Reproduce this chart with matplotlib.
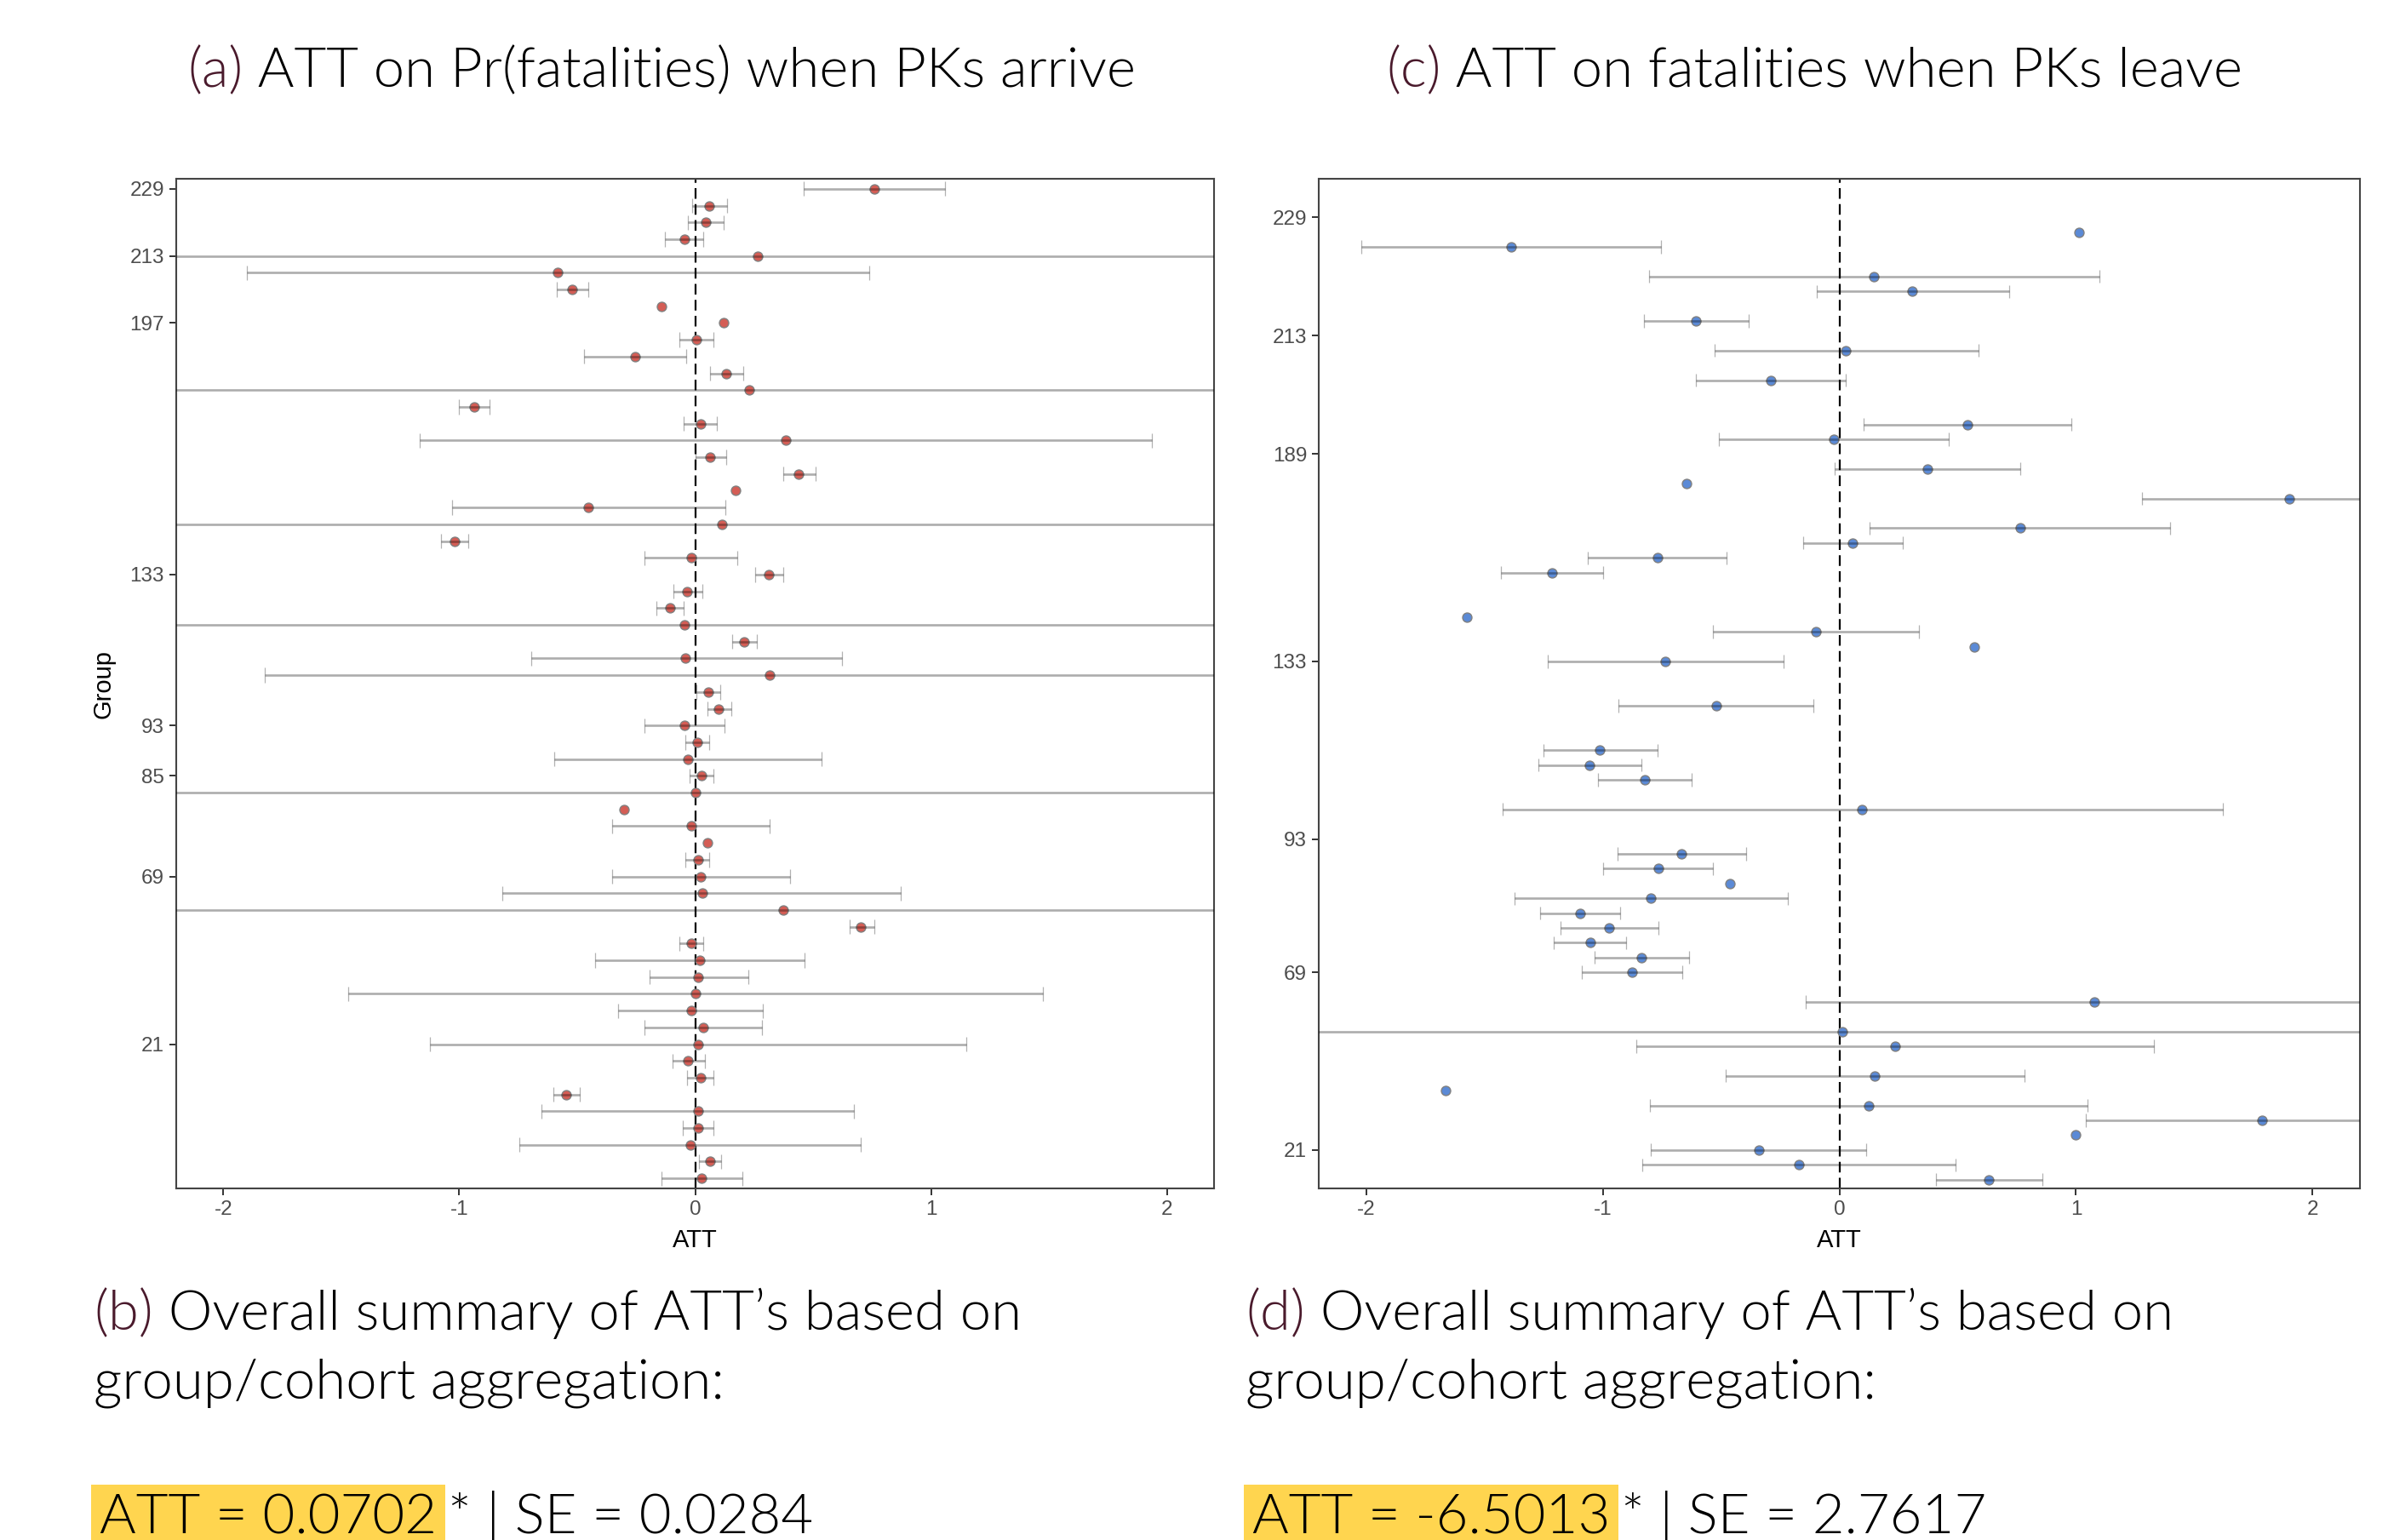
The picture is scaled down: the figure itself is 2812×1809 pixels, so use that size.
import numpy as np
import matplotlib.pyplot as plt
from matplotlib import font_manager

plt.rcParams['axes.unicode_minus'] = False
plt.rcParams['lines.scale_dashes'] = False

W, H, DPI = 2812, 1809, 100
nan = np.nan

# (a) ATT on Pr(fatalities) when PKs arrive -- rows listed top to bottom
att_a = [0.758, 0.061, 0.046, -0.046, 0.265, -0.582, -0.522, -0.141, 0.121, 0.006,
         -0.254, 0.133, 0.228, -0.937, 0.023, 0.383, 0.063, 0.438, 0.173, -0.452,
         0.115, -1.020, -0.017, 0.314, -0.035, -0.107, -0.046, 0.207, -0.040, 0.317,
         0.055, 0.101, -0.046, 0.009, -0.032, 0.026, 0.003, -0.300, -0.017, 0.052,
         0.012, 0.023, 0.029, 0.372, 0.703, -0.017, 0.020, 0.014, 0.003, -0.017,
         0.035, 0.012, -0.029, 0.023, -0.548, 0.012, 0.012, -0.020, 0.063, 0.026]
lo_a = [0.461, -0.014, -0.029, -0.127, -4.5, -1.899, -0.588, nan, nan, -0.066,
        -0.470, 0.063, -4.8, -1.000, -0.049, -1.167, 0.000, 0.372, nan, -1.032,
        -4.6, -1.078, -0.213, 0.254, -0.092, -0.164, -4.7, 0.156, -0.695, -1.824,
        0.006, 0.052, -0.213, -0.043, -0.599, -0.023, -4.9, nan, -0.352, nan,
        -0.040, -0.352, -0.816, -4.4, 0.654, -0.066, -0.424, -0.193, -1.470, -0.326,
        -0.216, -1.124, -0.095, -0.035, -0.602, -0.651, -0.052, -0.744, 0.017, -0.141]
hi_a = [1.058, 0.135, 0.121, 0.035, 5.0, 0.738, -0.452, nan, nan, 0.078,
        -0.037, 0.205, 5.2, -0.870, 0.092, 1.937, 0.130, 0.510, nan, 0.127,
        4.8, -0.963, 0.179, 0.372, 0.029, -0.049, 4.6, 0.262, 0.622, 2.45,
        0.107, 0.153, 0.124, 0.058, 0.536, 0.078, 4.9, nan, 0.317, nan,
        0.061, 0.403, 0.873, 5.1, 0.758, 0.035, 0.464, 0.225, 1.473, 0.288,
        0.282, 1.150, 0.043, 0.078, -0.490, 0.674, 0.078, 0.703, 0.110, 0.199]
tick_rows_a = [0, 4, 8, 23, 32, 35, 41, 51]
tick_labels_a = ['229', '213', '197', '133', '93', '85', '69', '21']

# (c) ATT on fatalities when PKs leave -- rows listed top to bottom
att_c = [nan, nan, nan, 1.012, -1.386, nan, 0.147, 0.308, nan, -0.605,
         nan, 0.027, nan, -0.290, nan, nan, 0.542, -0.024, nan, 0.371,
         -0.647, 1.901, nan, 0.763, 0.057, -0.769, -1.216, nan, nan, -1.575,
         -0.099, 0.569, -0.734, nan, nan, -0.521, nan, nan, -1.012, -1.057,
         -0.823, nan, 0.096, nan, nan, -0.668, -0.766, -0.461, -0.796, -1.096,
         -0.973, -1.054, -0.835, -0.877, nan, 1.078, nan, 0.012, 0.234, nan,
         0.150, -1.665, 0.123, 1.787, 1.000, -0.341, -0.171, 0.632]
lo_c = [nan, nan, nan, nan, -2.021, nan, -0.805, -0.096, nan, -0.826,
        nan, -0.527, nan, -0.605, nan, nan, 0.102, -0.509, nan, -0.021,
        nan, 1.278, nan, 0.129, -0.153, -1.063, -1.431, nan, nan, nan,
        -0.533, nan, -1.231, nan, nan, -0.934, nan, nan, -1.251, -1.272,
        -1.021, nan, -1.422, nan, nan, -0.937, -1.000, nan, -1.371, -1.263,
        -1.180, -1.207, -1.036, -1.090, nan, -0.141, nan, -4.5, -0.859, nan,
        -0.482, nan, -0.799, 1.042, nan, -0.796, -0.832, 0.407]
hi_c = [nan, nan, nan, nan, -0.754, nan, 1.099, 0.716, nan, -0.383,
        nan, 0.587, nan, 0.027, nan, nan, 0.982, 0.464, nan, 0.763,
        nan, 2.52, nan, 1.398, 0.269, -0.476, -1.000, nan, nan, nan,
        0.335, nan, -0.237, nan, nan, -0.108, nan, nan, -0.769, -0.838,
        -0.623, nan, 1.620, nan, nan, -0.395, -0.533, nan, -0.219, -0.925,
        -0.763, -0.901, -0.635, -0.665, nan, 2.30, nan, 4.5, 1.329, nan,
        0.784, nan, 1.048, 2.53, nan, 0.114, 0.491, 0.859]
tick_rows_c = [2, 10, 18, 32, 44, 53, 65]
tick_labels_c = ['229', '213', '189', '133', '93', '69', '21']

summary_b = ('ATT = 0.0702', '* | SE = 0.0284')
summary_d = ('ATT = -6.5013', '* | SE = 2.7617')

RED = '#D45D55'
BLUE = '#5B8AD6'
TAG = '#4A1A2C'
HILITE = '#FFD54F'
AX_FONT = 'Liberation Sans'
TXT_SIZE = 47


def lato_light():
    # pick the Lato Light face (not Hairline/Thin/Italic) if it is installed
    for f in font_manager.fontManager.ttflist:
        base = f.fname.lower().rsplit('/', 1)[-1]
        if f.name == 'Lato' and 'light' in base and 'italic' not in base \
                and 'hairline' not in base and 'thin' not in base and 'extra' not in base:
            return font_manager.FontProperties(fname=f.fname, size=TXT_SIZE)
    return font_manager.FontProperties(family='Lato', size=TXT_SIZE)


TXT_PROP = lato_light()


def forest(ax, att, lo, hi, tick_rows, tick_labels, color, ylabel=None):
    att, lo, hi = np.array(att), np.array(lo), np.array(hi)
    rows = np.arange(len(att))
    n = len(att)
    ok = np.isfinite(att)
    ax.axvline(0, color='black', lw=1.6, ls=(0, (9, 4.5)), zorder=1)
    ax.scatter(att[ok], rows[ok], s=62, color=color, edgecolor='#808080',
               linewidth=1.0, zorder=2)
    ci = np.isfinite(lo)
    ax.hlines(rows[ci], lo[ci], hi[ci], color='black', alpha=0.32, lw=1.9, zorder=3)
    ax.vlines(lo[ci], rows[ci] - 0.44, rows[ci] + 0.44, color='black', alpha=0.3, lw=0.9, zorder=3)
    ax.vlines(hi[ci], rows[ci] - 0.44, rows[ci] + 0.44, color='black', alpha=0.3, lw=0.9, zorder=3)
    ax.set_xlim(-2.2, 2.2)
    ax.set_ylim(n - 1 + 0.6, -0.6)
    ax.set_xticks([-2, -1, 0, 1, 2])
    ax.set_yticks(tick_rows)
    ax.set_yticklabels(tick_labels)
    for lab in ax.get_xticklabels() + ax.get_yticklabels():
        lab.set_fontfamily(AX_FONT)
    ax.tick_params(labelsize=17.5, labelcolor='#4D4D4D', color='#333333',
                   length=6, width=1.4, pad=4)
    for sp in ax.spines.values():
        sp.set_color('#444444')
        sp.set_linewidth(1.5)
    ax.set_xlabel('ATT', fontsize=21, fontfamily=AX_FONT, labelpad=8)
    if ylabel:
        ax.set_ylabel(ylabel, fontsize=21, fontfamily=AX_FONT, labelpad=12)


fig = plt.figure(figsize=(W / DPI, H / DPI), dpi=DPI)
ax_a = fig.add_axes([207 / W, 1 - 1396 / H, 1219 / W, 1186 / H])
ax_c = fig.add_axes([1549 / W, 1 - 1396 / H, 1223 / W, 1186 / H])
forest(ax_a, att_a, lo_a, hi_a, tick_rows_a, tick_labels_a, RED, ylabel='Group')
forest(ax_c, att_c, lo_c, hi_c, tick_rows_c, tick_labels_c, BLUE)

renderer = fig.canvas.get_renderer()


def text_width(s):
    t = fig.text(0, 0, s, fontproperties=TXT_PROP)
    w = t.get_window_extent(renderer).width
    t.remove()
    return w


def tagged(x, y, tag, rest):
    fig.text(x / W, 1 - y / H, tag, color=TAG, va='baseline', fontproperties=TXT_PROP)
    x2 = x + text_width(tag + rest) - text_width(rest)
    fig.text(x2 / W, 1 - y / H, rest, color='black', va='baseline', fontproperties=TXT_PROP)


def summary(x, y, pair):
    t = fig.text(x / W, 1 - y / H, pair[0], color='black', va='baseline',
                 bbox=dict(boxstyle='square,pad=0.15', facecolor=HILITE, edgecolor='none'),
                 fontproperties=TXT_PROP)
    bb = t.get_window_extent(renderer)
    x2 = bb.x1 + 0.15 * TXT_SIZE * DPI / 72 + 3
    fig.text(x2 / W, 1 - y / H, pair[1], color='black', va='baseline', fontproperties=TXT_PROP)


tagged(220, 102, '(a)', ' ATT on Pr(fatalities) when PKs arrive')
tagged(1628, 102, '(c)', ' ATT on fatalities when PKs leave')

tagged(110, 1562, '(b)', ' Overall summary of ATT\u2019s based on')
fig.text(110 / W, 1 - 1642 / H, 'group/cohort aggregation:', va='baseline', fontproperties=TXT_PROP)
summary(117, 1801, summary_b)

tagged(1463, 1562, '(d)', ' Overall summary of ATT\u2019s based on')
fig.text(1463 / W, 1 - 1642 / H, 'group/cohort aggregation:', va='baseline', fontproperties=TXT_PROP)
summary(1471, 1801, summary_d)

fig.savefig('out.png', dpi=DPI)
